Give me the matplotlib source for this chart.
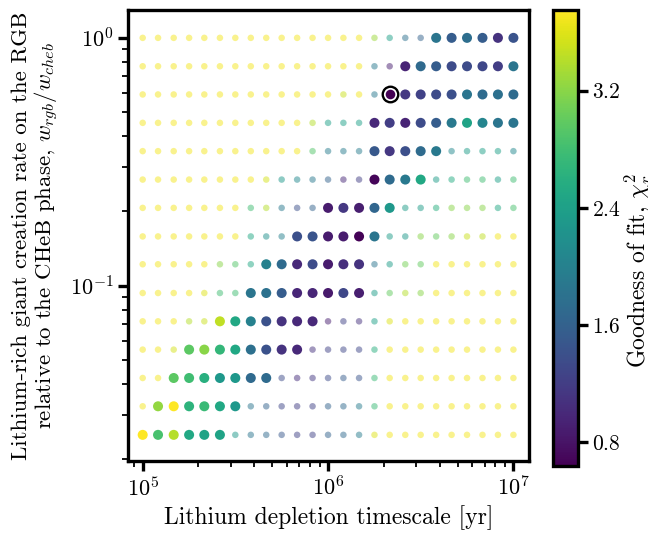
#!/usr/bin/env python
# li_rich_grid_chi2.py

import numpy as np
import matplotlib
matplotlib.use("Agg")
import matplotlib.pyplot as plt
from matplotlib.colors import Normalize

############################
# Fonts (computer-modern look)
############################
plt.rcParams["font.family"] = "serif"
plt.rcParams["font.serif"] = ["cmr10", "DejaVu Serif"]
plt.rcParams["mathtext.fontset"] = "cm"
plt.rcParams["axes.formatter.use_mathtext"] = True

############################
# Grid of models
############################
# lithium depletion timescale [yr]
tau_li = [1.00e5, 1.21e5, 1.47e5, 1.78e5, 2.15e5, 2.61e5, 3.16e5, 3.83e5,
          4.64e5, 5.62e5, 6.81e5, 8.25e5, 1.00e6, 1.21e6, 1.47e6, 1.78e6,
          2.15e6, 2.61e6, 3.16e6, 3.83e6, 4.64e6, 5.62e6, 6.81e6, 8.25e6,
          1.00e7]

# w_rgb / w_cheb, top row first
w_ratio = [1.0, 0.768, 0.591, 0.454, 0.349, 0.268, 0.206, 0.158,
           0.122, 0.0934, 0.0718, 0.0552, 0.0424, 0.0326, 0.025]

# reduced chi^2, one row per w_ratio (top row first), one column per tau_li
Y = 3.7  # poorly fitting corner of the grid
chi2 = [
    [Y]*12 + [Y, Y, Y, 3.3, 2.4, 1.8, 1.6, 1.85, 1.55, 1.75, 1.55, 1.1, 1.45],
    [Y]*12 + [Y, Y, Y, 1.9, 0.9, 0.95, 1.7, 1.55, 1.35, 1.35, 1.3, 1.2, 1.85],
    [Y]*12 + [Y, 3.5, Y, 1.9, 0.64, 1.15, 1.25, 1.35, 1.4, 1.85, 1.72, 1.78, 1.72],
    [Y]*11 + [3.4, 2.4, 2.4, 2.4, 1.0, 1.2, 0.95, 1.35, 1.55, 1.9, 2.45, 2.05, 1.85, 1.85],
    [Y]*11 + [2.9, 1.95, 1.95, 1.95, 1.5, 1.15, 1.4, 1.72, 1.9, 2.1, 2.35, 2.4, 2.4, 2.1],
    [Y]*8 + [3.55, 2.3, 2.1, 1.9, 1.6, 1.0, 1.2, 0.68, 1.72, 1.9, 2.5, 2.35, 2.55, 2.8, 2.8, 2.4, 2.8],
    [Y]*7 + [2.8, 3.4, 1.9, 1.4, 1.6, 0.88, 1.15, 0.9, 1.65, 2.3, 2.35, 2.35, 2.6, 3.2, 3.2, 3.2, 2.5, 2.85],
    [Y]*7 + [2.5, 2.2, 2.0, 1.4, 1.45, 0.88, 0.88, 0.66, 1.85, 2.35, 2.3, 3.2, 3.0, 3.2, 3.5, 3.45, Y, Y],
    [Y]*5 + [3.2, 2.9, 2.5, 2.0, 1.72, 1.0, 1.35, 0.88, 1.05, 1.1, 1.85, 2.35, 3.1, 3.0] + [Y]*6,
    [Y]*4 + [3.6, 2.8, 2.8, 1.85, 1.8, 1.55, 0.98, 0.98, 0.85, 1.3, 0.9, 2.35, 3.0, 3.4, 3.2] + [Y]*6,
    [Y]*3 + [3.4, 3.5, 3.45, 2.5, 2.0, 1.42, 1.1, 1.0, 1.0, 0.9, 1.25, 1.1, 2.4, 3.6] + [Y]*8,
    [Y]*2 + [3.55, 2.97, 3.2, 2.7, 2.5, 1.78, 1.42, 1.1, 1.0, 1.1, 1.25, 1.3, 1.3, 2.6] + [Y]*9,
    [Y]*2 + [2.97, 2.8, 2.6, 2.3, 2.3, 1.7, 1.72, 1.35, 1.05, 1.15, 1.35, 1.55, 1.45, 2.75] + [Y]*9,
    [Y] + [3.25, 3.75, 2.65, 2.75, 2.5, 2.3, 1.85, 1.6, 1.3, 1.2, 1.25, 1.6, 1.7, 1.95, 2.75] + [Y]*9,
    [3.75, 2.85, 3.4, 2.5, 2.45, 2.45, 2.3, 1.85, 1.7, 1.5, 1.25, 1.25, 1.6, 1.7, 1.95, 3.6] + [Y]*9,
]

# models that pass the extra constraint (drawn big and solid)
passes = [
    "...................LLLLLL",
    ".................LLLLLLLL",
    "................LLLLLLLLL",
    "...............LLLLLLLLLL",
    "...............LLLLL.....",
    "...............LLLL......",
    "............LLLLL........",
    "..........LLLLLL.........",
    "........LLLLLLL..........",
    ".......LLLLLLLL..........",
    ".....LLLLLLL.............",
    "...LLLLLLLL..............",
    "..LLLLLLL................",
    ".LLLLLL..................",
    "LLLLLL...................",
]

# best fit model
best_tau = 2.15e6
best_w = 0.591

VMIN, VMAX = 0.64, 3.75


def main():
    xx, yy = np.meshgrid(tau_li, w_ratio)
    cc = np.array(chi2)
    big = np.array([[ch == "L" for ch in row] for row in passes])

    norm = Normalize(vmin=VMIN, vmax=VMAX)
    cmap = plt.get_cmap("viridis")

    fig = plt.figure(figsize=(6.48, 5.33), dpi=100)
    ax = fig.add_axes([0.1975, 0.135, 0.619, 0.846])
    cax = fig.add_axes([0.853, 0.126, 0.0386, 0.855])

    # faded small points = models that fail
    ax.scatter(xx[~big], yy[~big], c=cc[~big], cmap=cmap, norm=norm,
               s=22, alpha=0.5, linewidths=0, zorder=2)
    # big points = models that pass
    sc = ax.scatter(xx[big], yy[big], c=cc[big], cmap=cmap, norm=norm,
                    s=52, linewidths=0, zorder=3)

    # ring round the best model
    ax.scatter([best_tau], [best_w], s=125, facecolor="white",
               edgecolor="black", linewidths=1.7, zorder=4)
    ax.scatter([best_tau], [best_w], c=[VMIN], cmap=cmap, norm=norm,
               s=48, linewidths=0, zorder=5)

    ax.set_xscale("log")
    ax.set_yscale("log")
    ax.set_xlim(8.33e4, 1.215e7)
    ax.set_ylim(0.0196, 1.294)

    ax.set_xlabel("Lithium depletion timescale [yr]", fontsize=17,
                  labelpad=4)
    ax.set_ylabel("Lithium-rich giant creation rate on the RGB\n"
                  "relative to the CHeB phase, $w_{rgb}/w_{cheb}$",
                  fontsize=16.5, labelpad=6, linespacing=1.1)

    for sp in ax.spines.values():
        sp.set_linewidth(2.4)
    ax.tick_params(which="major", direction="out", length=7, width=2.4,
                   labelsize=16)
    ax.tick_params(which="minor", direction="out", length=4, width=1.3)

    cb = fig.colorbar(sc, cax=cax)
    cb.outline.set_linewidth(2.4)
    cb.set_ticks([0.8, 1.6, 2.4, 3.2])
    cb.ax.tick_params(which="major", length=7, width=2.4, labelsize=15.5)
    cb.ax.minorticks_off()
    cb.set_label(r"Goodness of fit, $\chi^2_r$", fontsize=17)
    cb.ax.yaxis.set_label_coords(2.8, 0.43)

    fig.savefig("out.png", dpi=100)


if __name__ == "__main__":
    main()
